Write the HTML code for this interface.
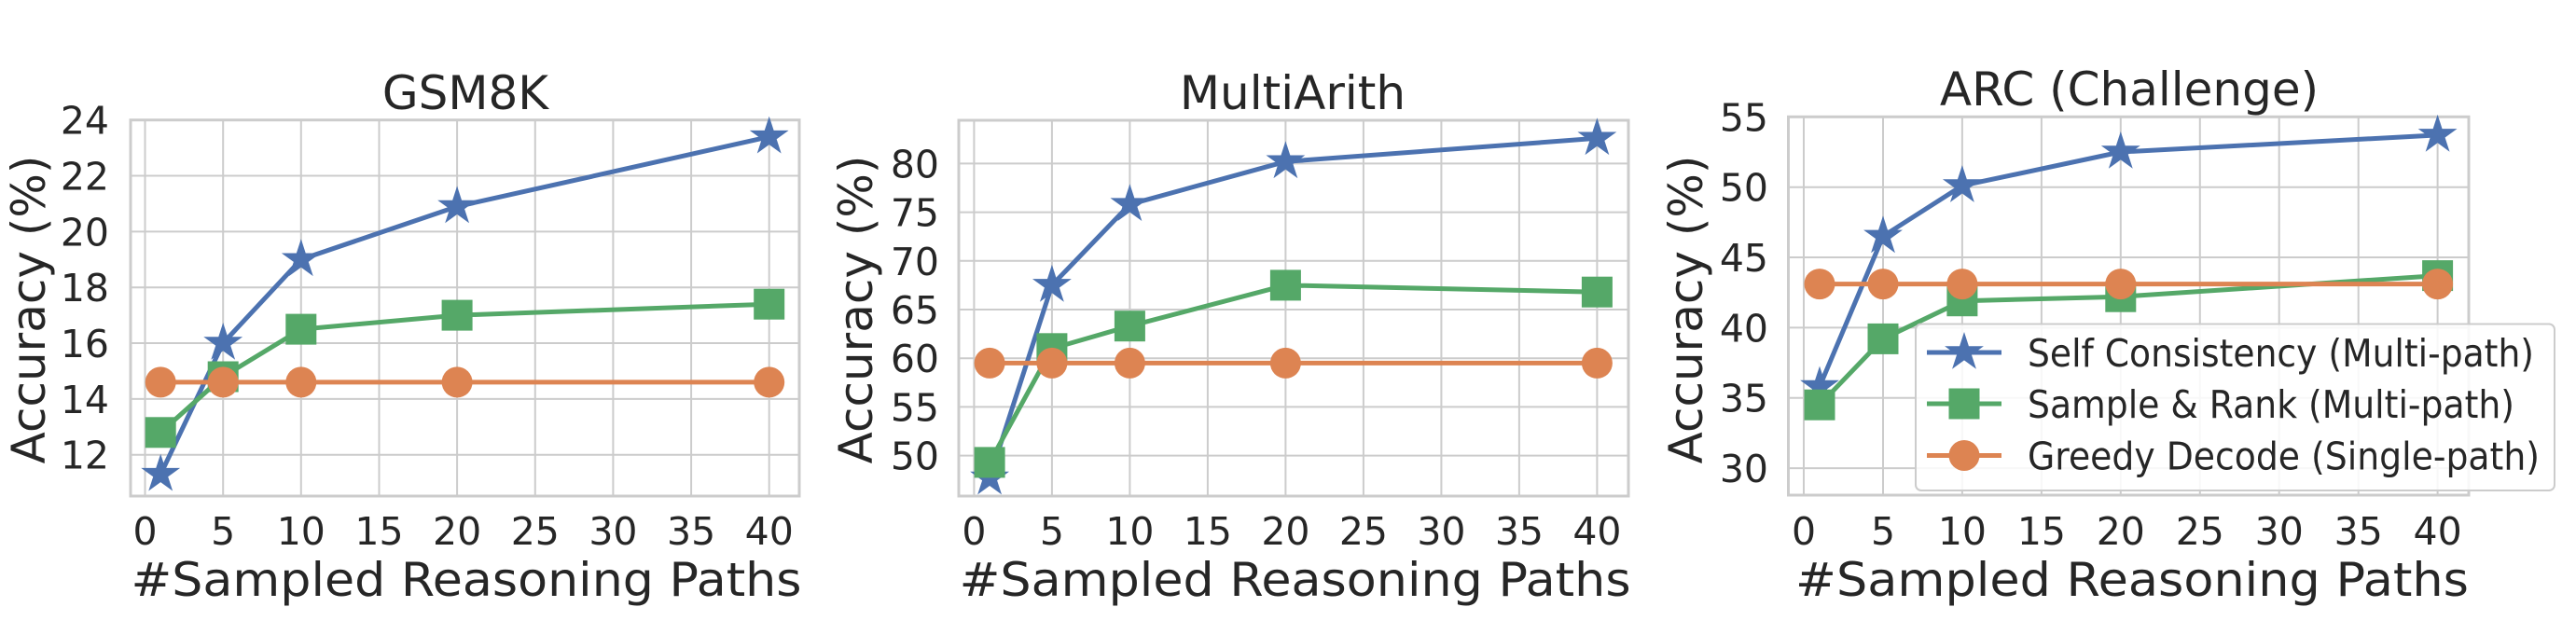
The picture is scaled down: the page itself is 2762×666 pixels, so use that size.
<!DOCTYPE html>
<html><head><meta charset="utf-8"><style>
html,body{margin:0;padding:0;background:#fff;}
svg{display:block;}
text{font-family:"DejaVu Sans","Liberation Sans",sans-serif;fill:#262626;}
</style></head><body>
<svg width="2762" height="666" viewBox="0 0 2762 666" xmlns="http://www.w3.org/2000/svg">
<defs>
<polygon id="st" points="0,-22 4.94,-6.8 20.92,-6.8 7.99,2.6 12.93,17.8 0,8.4 -12.93,17.8 -7.99,2.6 -20.92,-6.8 -4.94,-6.8" fill="#4c72b0"/>
<rect id="sq" x="-16.5" y="-16.5" width="33" height="33" fill="#55a868"/>
<circle id="ci" r="16.5" fill="#dd8452"/>
</defs>

<!-- Panel 1 -->
<g stroke="#cccccc" stroke-width="2" fill="none">
<path d="M155.5 129V532M239.2 129V532M322.8 129V532M406.5 129V532M490.1 129V532M573.8 129V532M657.4 129V532M741.1 129V532M824.7 129V532"/>
<path d="M140 128.7H857M140 188.5H857M140 248.4H857M140 308.2H857M140 368H857M140 427.9H857M140 487.7H857"/>
<rect x="140" y="128.7" width="717" height="403.3" stroke-width="3"/>
</g>
<g font-size="41" text-anchor="end">
<text x="117" y="143.7">24</text><text x="117" y="203.5">22</text><text x="117" y="263.4">20</text><text x="117" y="323.2">18</text><text x="117" y="383">16</text><text x="117" y="442.9">14</text><text x="117" y="502.7">12</text>
</g>
<g font-size="41" text-anchor="middle">
<text x="155.5" y="584">0</text><text x="239.2" y="584">5</text><text x="322.8" y="584">10</text><text x="406.5" y="584">15</text><text x="490.1" y="584">20</text><text x="573.8" y="584">25</text><text x="657.4" y="584">30</text><text x="741.1" y="584">35</text><text x="824.7" y="584">40</text>
</g>
<text x="499" y="117" font-size="50" text-anchor="middle">GSM8K</text>
<text x="500" y="639" font-size="50" text-anchor="middle" textLength="719" lengthAdjust="spacingAndGlyphs">#Sampled Reasoning Paths</text>
<text transform="translate(48,332) rotate(-90)" font-size="50" text-anchor="middle">Accuracy (%)</text>
<g fill="none" stroke-width="5" stroke-linejoin="round">
<polyline stroke="#4c72b0" points="172.2,508.7 239.2,368 322.8,278.3 490.1,221.5 824.7,146.7"/>
<polyline stroke="#55a868" points="172.2,463.8 239.2,404 322.8,353.1 490.1,338.1 824.7,326.2"/>
</g>
<use href="#st" x="172.2" y="508.7"/><use href="#st" x="239.2" y="368"/><use href="#st" x="322.8" y="278.3"/><use href="#st" x="490.1" y="221.5"/><use href="#st" x="824.7" y="146.7"/>
<use href="#sq" x="172.2" y="463.8"/><use href="#sq" x="239.2" y="404"/><use href="#sq" x="322.8" y="353.1"/><use href="#sq" x="490.1" y="338.1"/><use href="#sq" x="824.7" y="326.2"/>
<line x1="172.2" y1="409.9" x2="824.7" y2="409.9" stroke="#dd8452" stroke-width="5"/>
<use href="#ci" x="172.2" y="409.9"/><use href="#ci" x="239.2" y="409.9"/><use href="#ci" x="322.8" y="409.9"/><use href="#ci" x="490.1" y="409.9"/><use href="#ci" x="824.7" y="409.9"/>

<!-- Panel 2 -->
<g stroke="#cccccc" stroke-width="2" fill="none">
<path d="M1044.4 129V532M1127.9 129V532M1211.4 129V532M1294.9 129V532M1378.4 129V532M1461.9 129V532M1545.4 129V532M1628.9 129V532M1712.4 129V532"/>
<path d="M1028 175.4H1746M1028 227.6H1746M1028 279.8H1746M1028 332H1746M1028 384.2H1746M1028 436.4H1746M1028 488.6H1746"/>
<rect x="1028" y="129" width="718" height="403" stroke-width="3"/>
</g>
<g font-size="41" text-anchor="end">
<text x="1007" y="190.4">80</text><text x="1007" y="242.6">75</text><text x="1007" y="294.8">70</text><text x="1007" y="347">65</text><text x="1007" y="399.2">60</text><text x="1007" y="451.4">55</text><text x="1007" y="503.6">50</text>
</g>
<g font-size="41" text-anchor="middle">
<text x="1044.4" y="584">0</text><text x="1127.9" y="584">5</text><text x="1211.4" y="584">10</text><text x="1294.9" y="584">15</text><text x="1378.4" y="584">20</text><text x="1461.9" y="584">25</text><text x="1545.4" y="584">30</text><text x="1628.9" y="584">35</text><text x="1712.4" y="584">40</text>
</g>
<text x="1386" y="117" font-size="50" text-anchor="middle">MultiArith</text>
<text x="1388.6" y="639" font-size="50" text-anchor="middle" textLength="720" lengthAdjust="spacingAndGlyphs">#Sampled Reasoning Paths</text>
<text transform="translate(935,332) rotate(-90)" font-size="50" text-anchor="middle">Accuracy (%)</text>
<g fill="none" stroke-width="5" stroke-linejoin="round">
<polyline stroke="#4c72b0" points="1061.1,512.6 1127.9,305.9 1211.4,219.2 1378.4,173.3 1712.4,148.3"/>
<polyline stroke="#55a868" points="1061.1,495.9 1127.9,373.8 1211.4,349.7 1378.4,305.9 1712.4,313.2"/>
</g>
<use href="#st" x="1061.1" y="512.6"/><use href="#st" x="1127.9" y="305.9"/><use href="#st" x="1211.4" y="219.2"/><use href="#st" x="1378.4" y="173.3"/><use href="#st" x="1712.4" y="148.3"/>
<use href="#sq" x="1061.1" y="495.9"/><use href="#sq" x="1127.9" y="373.8"/><use href="#sq" x="1211.4" y="349.7"/><use href="#sq" x="1378.4" y="305.9"/><use href="#sq" x="1712.4" y="313.2"/>
<line x1="1061.1" y1="389.4" x2="1712.4" y2="389.4" stroke="#dd8452" stroke-width="5"/>
<use href="#ci" x="1061.1" y="389.4"/><use href="#ci" x="1127.9" y="389.4"/><use href="#ci" x="1211.4" y="389.4"/><use href="#ci" x="1378.4" y="389.4"/><use href="#ci" x="1712.4" y="389.4"/>

<!-- Panel 3 -->
<g stroke="#cccccc" stroke-width="2" fill="none">
<path d="M1934 125V531M2019 125V531M2103.9 125V531M2188.9 125V531M2273.8 125V531M2358.8 125V531M2443.7 125V531M2528.7 125V531M2613.6 125V531"/>
<path d="M1917.5 125.3H2647M1917.5 200.7H2647M1917.5 276H2647M1917.5 351.4H2647M1917.5 426.7H2647M1917.5 502.1H2647"/>
<rect x="1917.5" y="125.3" width="729.5" height="405.7" stroke-width="3"/>
</g>
<g font-size="41" text-anchor="end">
<text x="1896" y="140.3">55</text><text x="1896" y="215.7">50</text><text x="1896" y="291">45</text><text x="1896" y="366.4">40</text><text x="1896" y="441.7">35</text><text x="1896" y="517.1">30</text>
</g>
<g font-size="41" text-anchor="middle">
<text x="1934" y="584">0</text><text x="2019" y="584">5</text><text x="2103.9" y="584">10</text><text x="2188.9" y="584">15</text><text x="2273.8" y="584">20</text><text x="2358.8" y="584">25</text><text x="2443.7" y="584">30</text><text x="2528.7" y="584">35</text><text x="2613.6" y="584">40</text>
</g>
<text x="2283" y="113" font-size="50" text-anchor="middle">ARC (Challenge)</text>
<text x="2286" y="639" font-size="50" text-anchor="middle" textLength="722" lengthAdjust="spacingAndGlyphs">#Sampled Reasoning Paths</text>
<text transform="translate(1825,332) rotate(-90)" font-size="50" text-anchor="middle">Accuracy (%)</text>
<g fill="none" stroke-width="5" stroke-linejoin="round">
<polyline stroke="#4c72b0" points="1951,414.6 2019,253.4 2103.9,199.1 2273.8,163 2613.6,144.9"/>
<polyline stroke="#55a868" points="1951,434.2 2019,363.4 2103.9,322.7 2273.8,318.2 2613.6,295.6"/>
</g>
<use href="#st" x="1951" y="414.6"/><use href="#st" x="2019" y="253.4"/><use href="#st" x="2103.9" y="199.1"/><use href="#st" x="2273.8" y="163"/><use href="#st" x="2613.6" y="144.9"/>
<use href="#sq" x="1951" y="434.2"/><use href="#sq" x="2019" y="363.4"/><use href="#sq" x="2103.9" y="322.7"/><use href="#sq" x="2273.8" y="318.2"/><use href="#sq" x="2613.6" y="295.6"/>
<line x1="1951" y1="304.6" x2="2613.6" y2="304.6" stroke="#dd8452" stroke-width="5"/>
<use href="#ci" x="1951" y="304.6"/><use href="#ci" x="2019" y="304.6"/><use href="#ci" x="2103.9" y="304.6"/><use href="#ci" x="2273.8" y="304.6"/><use href="#ci" x="2613.6" y="304.6"/>

<!-- Legend -->
<rect x="2054" y="347.5" width="685" height="178.5" rx="6" fill="#ffffff" fill-opacity="0.85" stroke="#cccccc" stroke-width="2"/>
<line x1="2066" y1="378" x2="2146" y2="378" stroke="#4c72b0" stroke-width="5"/>
<use href="#st" x="2106" y="378"/>
<line x1="2066" y1="433" x2="2146" y2="433" stroke="#55a868" stroke-width="5"/>
<use href="#sq" x="2106" y="433"/>
<line x1="2066" y1="488.5" x2="2146" y2="488.5" stroke="#dd8452" stroke-width="5"/>
<use href="#ci" x="2106" y="488.5"/>
<g font-size="41">
<text x="2174" y="393" textLength="543" lengthAdjust="spacingAndGlyphs">Self Consistency (Multi-path)</text>
<text x="2174" y="448" textLength="522" lengthAdjust="spacingAndGlyphs">Sample &amp; Rank (Multi-path)</text>
<text x="2174" y="503.5" textLength="549" lengthAdjust="spacingAndGlyphs">Greedy Decode (Single-path)</text>
</g>
</svg>
</body></html>
